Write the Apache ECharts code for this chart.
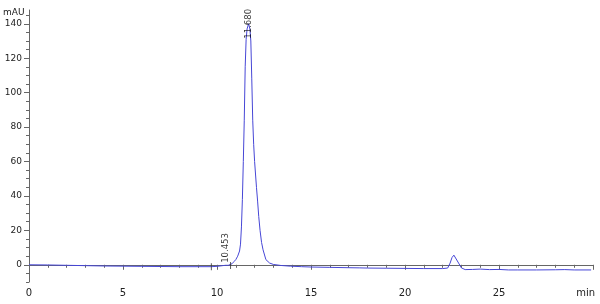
<!DOCTYPE html>
<html><head><meta charset="utf-8">
<script src="https://cdn.jsdelivr.net/npm/echarts@6/dist/echarts.min.js"></script>
<style>html,body{margin:0;padding:0;background:#fff}#c{width:600px;height:304px}</style>
</head><body><div id="c"></div>
<script>
// Chromatogram signal [time (min), absorbance (mAU)]
const signal = [
 [0,0.0],[1,-0.1],[2,-0.3],[3,-0.5],[4,-0.7],[5,-0.8],[6,-0.9],[7,-1.0],[8,-1.1],[9,-1.1],[9.7,-1.1],
 [10.0,-0.9],[10.3,-0.5],[10.45,-0.3],[10.6,-0.3],[10.7,-0.5],[10.8,0.6],[10.9,1.8],[11.0,3.0],[11.1,5],
 [11.2,8],[11.25,12],[11.3,22],[11.35,38],[11.4,60],[11.45,84],[11.5,115],[11.55,131],[11.6,137],[11.68,140],
 [11.75,137],[11.8,130],[11.85,108],[11.9,84],[11.95,70],[12.0,60],[12.1,45],[12.16,37],[12.22,28],[12.29,20],
 [12.37,13],[12.45,8.7],[12.6,3.0],[12.8,1.0],[13.0,0.2],[13.4,-0.4],[13.9,-0.8],[14.5,-1.1],[15,-1.3],[16,-1.5],
 [17,-1.7],[17.6,-1.8],[17.65,-2.4],[17.7,-1.8],[18,-1.9],[19,-2.0],[20,-2.1],[21,-2.2],[22,-2.2],[22.27,-1.9],
 [22.4,1.0],[22.5,4.2],[22.6,5.6],[22.7,4.5],[22.85,1.0],[23.0,-1.8],[23.2,-2.8],[23.6,-2.7],[24.0,-2.5],[24.5,-2.8],
 [25,-2.7],[25.5,-3.0],[26,-3.0],[27,-3.0],[28,-2.9],[28.5,-2.8],[29,-3.0],[29.9,-3.0]
];
const peakTimes = [10.453, 11.680];
const peakHeights = [-0.3, 140];
const peakLabels = ['10.453', '11.680'];
const markerTimes = [9.7, 10.72];
const markerHeights = [-1.1, -0.4];
const xTicks = [0, 5, 10, 15, 20, 25];
const yTicks = [0, 20, 40, 60, 80, 100, 120, 140];
const yMinorTicks = [-10,-5,0,5,10,15,20,25,30,35,40,45,50,55,60,65,70,75,80,85,90,95,100,105,110,115,120,125,130,135,140,145];

const chart = echarts.init(document.getElementById('c'), null, {renderer:'canvas'});
const axisCol = '#666';
const txt = '#222';
const font = 'DejaVu Sans';
const fs = 9;
chart.setOption({
  animation:false,
  grid:{left:29,right:7,top:10,bottom:22},
  xAxis:{type:'value',min:0,max:30,interval:5,
    axisLine:{lineStyle:{color:axisCol,width:1}},
    axisTick:{show:true,length:5,lineStyle:{color:axisCol}},
    minorTick:{show:true,splitNumber:5,length:3,lineStyle:{color:axisCol}},
    splitLine:{show:false},
    axisLabel:{color:txt,fontFamily:font,fontSize:fs+1,margin:6,
      formatter:v=>xTicks.indexOf(v)>=0?String(v):''}},
  yAxis:[{type:'value',min:-10,max:148,
    axisLine:{show:true,lineStyle:{color:axisCol,width:1}},
    axisTick:{show:true,length:5,customValues:yTicks,lineStyle:{color:axisCol}},
    splitLine:{show:false},
    axisLabel:{color:txt,fontFamily:font,fontSize:fs,margin:7,customValues:yTicks}},
   {type:'value',min:-10,max:148,position:'left',
    axisLine:{show:false},
    axisTick:{show:true,length:3,customValues:yMinorTicks,lineStyle:{color:axisCol}},
    splitLine:{show:false},
    axisLabel:{show:false}}],
  graphic:[
    {type:'text',left:3,top:8,style:{text:'mAU',fill:txt,font:fs+'px "DejaVu Sans"'}},
    {type:'text',right:5,bottom:6,style:{text:'min',fill:txt,font:(fs+1)+'px "DejaVu Sans"'}}
  ],
  series:[
    {type:'line',data:signal,showSymbol:false,symbol:'none',
     lineStyle:{color:'#4646d6',width:1},z:3},
    {type:'scatter',symbol:'circle',symbolSize:1,itemStyle:{color:'rgba(0,0,0,0)'},z:5,
     data:peakTimes.map((t,i)=>({value:[t,peakHeights[i]],
       label: i===1 ? {position:'inside',align:'center',verticalAlign:'middle'} :
                      {position:'top',distance:2,align:'left',verticalAlign:'middle'}})),
     label:{show:true,rotate:90,color:'#000',fontFamily:font,fontSize:8.5,
       formatter:p=>peakLabels[p.dataIndex]}},
    {type:'scatter',data:markerTimes.map((t,i)=>[t,markerHeights[i]]),symbol:'rect',symbolSize:[1,7],
     itemStyle:{color:'#333'},z:4}
  ]
});
</script></body></html>
